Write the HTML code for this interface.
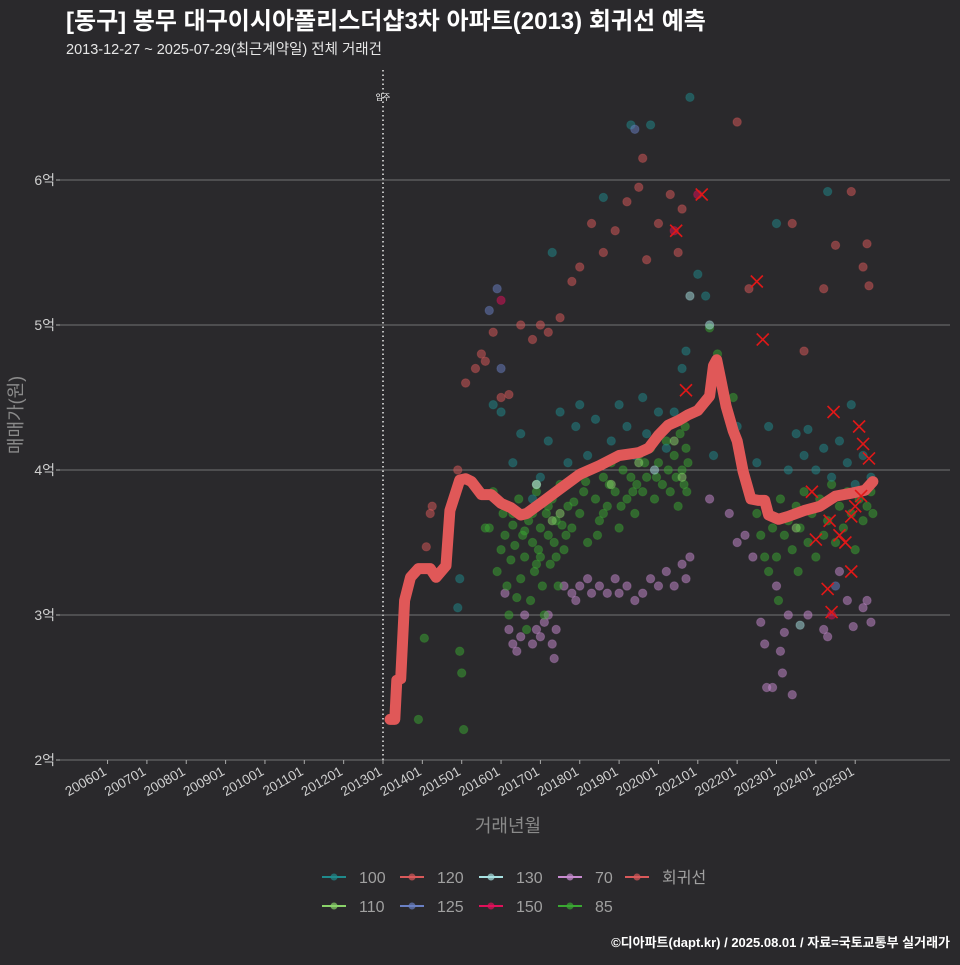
<!DOCTYPE html>
<html><head><meta charset="utf-8">
<style>
html,body{margin:0;padding:0;background:#2a292c;}
body{width:960px;height:960px;overflow:hidden;font-family:"Liberation Sans","Noto Sans CJK KR",sans-serif;}
svg text{font-family:"Liberation Sans","Noto Sans CJK KR",sans-serif;}
</style></head>
<body>
<svg id="chart" width="960" height="960" xmlns="http://www.w3.org/2000/svg">
<rect width="960" height="960" fill="#2a292c"/>
<text x="66" y="29" fill="#ffffff" font-size="24" font-weight="bold">[동구] 봉무 대구이시아폴리스더샵3차 아파트(2013) 회귀선 예측</text>
<text x="66" y="54" fill="#e6e6e6" font-size="14.5">2013-12-27 ~ 2025-07-29(최근계약일) 전체 거래건</text>
<g id="grid"></g><g id="axes"></g><g id="points"></g><g id="line"></g><g id="marks"></g>
<text transform="translate(22,415) rotate(-90)" text-anchor="middle" fill="#8a8a8a" font-size="18">매매가(원)</text>
<text x="508" y="832" text-anchor="middle" fill="#8a8a8a" font-size="18">거래년월</text>
<g id="legend"></g>
<text x="950" y="947" text-anchor="end" fill="#ffffff" font-size="13" font-weight="bold">©디아파트(dapt.kr) / 2025.08.01 / 자료=국토교통부 실거래가</text>
</svg>
<script>
const xTickLabels=["200601","200701","200801","200901","201001","201101","201201","201301","201401","201501","201601","201701","201801","201901","202001","202101","202201","202301","202401","202501"];
const xTickYears=[2006,2007,2008,2009,2010,2011,2012,2013,2014,2015,2016,2017,2018,2019,2020,2021,2022,2023,2024,2025];
const yTickValues=[2,3,4,5,6];
const yTickLabels=["2억","3억","4억","5억","6억"];
const moveInYear=2013.0;
const lineT=[2013.18,2013.3,2013.35,2013.45,2013.55,2013.7,2013.9,2014.2,2014.35,2014.6,2014.7,2014.95,2015.1,2015.25,2015.5,2015.75,2016.0,2016.25,2016.5,2016.65,2017.0,2017.5,2018.0,2018.5,2019.0,2019.5,2019.75,2020.0,2020.25,2020.5,2020.75,2021.0,2021.15,2021.3,2021.4,2021.48,2021.58,2021.72,2021.9,2022.0,2022.15,2022.35,2022.55,2022.7,2022.8,2023.05,2023.3,2023.7,2024.1,2024.5,2024.9,2025.25,2025.45];
const lineP=[2.28,2.28,2.55,2.56,3.1,3.26,3.32,3.32,3.26,3.34,3.72,3.93,3.94,3.92,3.83,3.83,3.77,3.74,3.69,3.70,3.77,3.87,3.97,4.03,4.10,4.12,4.15,4.24,4.31,4.34,4.38,4.41,4.46,4.51,4.72,4.76,4.63,4.44,4.27,4.2,3.99,3.8,3.79,3.79,3.69,3.66,3.68,3.72,3.75,3.82,3.84,3.86,3.92];
const s85=[[2013.9,2.28],[2014.05,2.84],[2014.95,2.75],[2015.0,2.6],[2015.05,2.21],[2015.6,3.6],[2015.7,3.6],[2015.8,3.85],[2015.9,3.3],[2016.0,3.45],[2016.05,3.7],[2016.1,3.55],[2016.15,3.2],[2016.2,3.0],[2016.25,3.38],[2016.3,3.62],[2016.35,3.48],[2016.4,3.12],[2016.45,3.8],[2016.5,3.25],[2016.55,3.55],[2016.6,3.4],[2016.65,2.9],[2016.7,3.65],[2016.75,3.1],[2016.8,3.5],[2016.85,3.3],[2016.9,3.85],[2016.95,3.45],[2017.0,3.6],[2017.05,3.2],[2017.1,3.0],[2017.15,3.7],[2017.2,3.55],[2017.25,3.35],[2017.3,3.8],[2017.35,3.5],[2017.4,3.65],[2017.45,3.2],[2017.5,3.9],[2017.55,3.62],[2017.6,3.45],[2017.7,3.75],[2017.8,3.6],[2017.9,3.95],[2018.0,3.7],[2018.1,3.85],[2018.2,3.5],[2018.3,4.0],[2018.4,3.8],[2018.5,3.65],[2018.6,3.95],[2018.7,3.75],[2018.8,4.05],[2018.9,3.85],[2019.0,3.6],[2019.1,4.0],[2019.2,3.8],[2019.3,3.95],[2019.4,3.7],[2019.5,4.1],[2019.6,3.85],[2019.7,3.95],[2019.8,4.15],[2019.9,3.8],[2020.0,4.05],[2020.1,3.9],[2020.2,4.2],[2020.3,3.85],[2020.4,4.1],[2020.5,3.75],[2020.55,4.25],[2020.6,4.0],[2020.65,3.9],[2020.7,4.15],[2020.75,4.05],[2021.3,4.98],[2021.5,4.8],[2021.9,4.5],[2016.3,3.7],[2016.6,3.58],[2016.9,3.35],[2017.2,3.75],[2017.4,3.4],[2017.65,3.55],[2017.85,3.78],[2018.15,3.92],[2018.45,3.55],[2018.75,3.9],[2019.05,3.75],[2019.35,3.85],[2019.65,4.05],[2019.95,3.95],[2020.25,4.0],[2020.45,3.95],[2020.68,4.3],[2020.72,3.85],[2016.8,3.7],[2017.0,3.4],[2018.6,3.7],[2019.45,3.9],[2022.5,3.7],[2022.6,3.55],[2022.7,3.4],[2022.8,3.3],[2022.9,3.6],[2023.0,3.4],[2023.05,3.1],[2023.1,3.8],[2023.2,3.55],[2023.3,3.65],[2023.4,3.45],[2023.5,3.75],[2023.55,3.3],[2023.6,3.6],[2023.7,3.85],[2023.8,3.5],[2023.9,3.7],[2024.0,3.4],[2024.1,3.8],[2024.2,3.55],[2024.3,3.65],[2024.4,3.9],[2024.5,3.5],[2024.6,3.75],[2024.7,3.6],[2024.8,3.85],[2024.9,3.7],[2025.0,3.45],[2025.1,3.8],[2025.2,3.65],[2025.3,3.75],[2025.4,3.85],[2025.45,3.7]];
const s100=[[2014.9,3.05],[2014.95,3.25],[2015.8,4.45],[2016.0,4.4],[2016.3,4.05],[2016.5,4.25],[2016.8,3.8],[2017.0,3.95],[2017.2,4.2],[2017.3,5.5],[2017.5,4.4],[2017.7,4.05],[2017.9,4.3],[2018.0,4.45],[2018.2,4.1],[2018.4,4.35],[2018.6,5.88],[2018.8,4.2],[2019.0,4.45],[2019.2,4.3],[2019.3,6.38],[2019.4,4.1],[2019.6,4.5],[2019.7,4.25],[2019.8,6.38],[2020.0,4.4],[2020.2,4.15],[2020.4,4.4],[2020.6,4.7],[2020.7,4.82],[2020.8,6.57],[2021.0,5.35],[2021.2,5.2],[2021.4,4.1],[2022.0,4.3],[2022.5,4.05],[2022.8,4.3],[2023.0,5.7],[2023.3,4.0],[2023.5,4.25],[2023.7,4.1],[2023.8,4.28],[2024.0,4.0],[2024.2,4.15],[2024.3,5.92],[2024.4,3.95],[2024.6,4.2],[2024.8,4.05],[2024.9,4.45],[2025.0,3.9],[2025.2,4.1],[2025.4,3.95]];
const s70=[[2016.1,3.15],[2016.2,2.9],[2016.3,2.8],[2016.4,2.75],[2016.5,2.85],[2016.6,3.0],[2016.8,2.8],[2016.9,2.9],[2017.0,2.85],[2017.1,2.95],[2017.2,3.0],[2017.3,2.8],[2017.35,2.7],[2017.4,2.9],[2017.6,3.2],[2017.8,3.15],[2017.9,3.1],[2018.0,3.2],[2018.2,3.25],[2018.3,3.15],[2018.5,3.2],[2018.7,3.15],[2018.9,3.25],[2019.0,3.15],[2019.2,3.2],[2019.4,3.1],[2019.6,3.15],[2019.8,3.25],[2020.0,3.2],[2020.2,3.3],[2020.4,3.2],[2020.6,3.35],[2020.7,3.25],[2020.8,3.4],[2021.3,3.8],[2021.8,3.7],[2022.0,3.5],[2022.2,3.55],[2022.4,3.4],[2022.6,2.95],[2022.7,2.8],[2022.75,2.5],[2022.9,2.5],[2023.0,3.2],[2023.1,2.75],[2023.15,2.6],[2023.2,2.88],[2023.3,3.0],[2023.4,2.45],[2023.8,3.0],[2024.2,2.9],[2024.3,2.85],[2024.6,3.3],[2024.8,3.1],[2024.95,2.92],[2025.2,3.05],[2025.3,3.1],[2025.4,2.95]];
const s120=[[2014.1,3.47],[2014.2,3.7],[2014.25,3.75],[2014.9,4.0],[2015.1,4.6],[2015.35,4.7],[2015.5,4.8],[2015.6,4.75],[2015.8,4.95],[2016.0,4.5],[2016.2,4.52],[2016.5,5.0],[2016.8,4.9],[2017.0,5.0],[2017.2,4.95],[2017.5,5.05],[2017.8,5.3],[2018.0,5.4],[2018.3,5.7],[2018.6,5.5],[2018.9,5.65],[2019.2,5.85],[2019.5,5.95],[2019.6,6.15],[2019.7,5.45],[2020.0,5.7],[2020.3,5.9],[2020.5,5.5],[2020.6,5.8],[2022.0,6.4],[2022.3,5.25],[2023.4,5.7],[2023.7,4.82],[2024.2,5.25],[2024.5,5.55],[2024.9,5.92],[2025.2,5.4],[2025.3,5.56],[2025.35,5.27]];
const s110=[[2016.9,3.9],[2017.3,3.65],[2017.5,3.7],[2018.8,3.9],[2019.5,4.05],[2020.4,4.2],[2020.6,3.95],[2023.5,3.6]];
const s125=[[2015.9,5.25],[2015.7,5.1],[2019.4,6.35],[2016.0,4.7],[2024.5,3.2]];
const s130=[[2016.9,3.9],[2019.9,4.0],[2020.8,5.2],[2023.6,2.93],[2021.3,5.0]];
const s150=[[2016.0,5.17],[2020.4,5.65],[2021.0,5.9],[2024.4,3.0]];
const xMarks=[[2020.45,5.65],[2020.7,4.55],[2021.1,5.9],[2022.5,5.3],[2022.65,4.9],[2023.9,3.85],[2024.3,3.18],[2024.4,3.02],[2024.45,4.4],[2024.6,3.55],[2024.75,3.5],[2024.9,3.3],[2024.9,3.68],[2025.0,3.75],[2025.1,4.3],[2025.2,4.18],[2025.35,4.08],[2025.15,3.82],[2024.0,3.52],[2024.35,3.65]];
const legendLabels=["100","120","130","70","회귀선","110","125","150","85"];

const NS="http://www.w3.org/2000/svg";
const X0=60,X1=950,Y0=65,Y1=760;
function xs(t){return 383+(t-2013)*39.35;}
function ys(p){return 760-(p-2)*145;}
function mk(tag,attrs,parent){const e=document.createElementNS(NS,tag);for(const k in attrs)e.setAttribute(k,attrs[k]);parent.appendChild(e);return e;}
const grid=document.getElementById('grid'),axes=document.getElementById('axes');
yTickValues.forEach((v,i)=>{
  const g=mk('line',{x1:X0,x2:X1,y1:ys(v),y2:ys(v),stroke:'#737373','stroke-width':1},grid);
  
  
  const tk=mk('line',{x1:X0-4,x2:X0,y1:ys(v),y2:ys(v),stroke:'#aaa'},axes);
  
  
  const t=mk('text',{x:X0-5,y:ys(v)+5,'text-anchor':'end',fill:'#cfcfcf','font-size':14},axes);
  t.textContent=yTickLabels[i];
  
  
});
xTickYears.forEach((yr,i)=>{
  const x=xs(yr);
  const tk=mk('line',{x1:x,x2:x,y1:Y1,y2:Y1+4,stroke:'#aaa'},axes);
  
  
  const t=mk('text',{x:x,y:Y1+14,'text-anchor':'end',fill:'#cfcfcf','font-size':13.5,transform:`rotate(-30 ${x} ${Y1+14})`},axes);
  t.textContent=xTickLabels[i];
  
  
});
const vl=mk('line',{x1:xs(moveInYear),x2:xs(moveInYear),y1:70,y2:Y1,stroke:'#bbbbbb','stroke-width':2,'stroke-dasharray':'1.5 3'},axes);


const ml=mk('text',{x:xs(moveInYear),y:100,'text-anchor':'middle',fill:'#ffffff','font-size':8},axes);
ml.textContent='입주';



const pts=document.getElementById('points');
const series=[[s70,'#c88bd0'],[s85,'#3aa832'],[s100,'#1f8a8c'],[s110,'#8ad36a'],[s120,'#d9595a'],[s125,'#6a80c4'],[s130,'#a8e2e2'],[s150,'#e0105a']];
series.forEach(([arr,col])=>{
  arr.forEach(d=>{
    const c=mk('circle',{cx:xs(d[0]),cy:ys(d[1]),r:4.2,fill:col,'fill-opacity':0.5,stroke:col,'stroke-opacity':0.3},pts);
    
    
  });
});
const lg=document.getElementById('line');
const path=mk('path',{d:lineT.map((t,i)=>(i?'L':'M')+xs(t).toFixed(1)+','+ys(lineP[i]).toFixed(1)).join(''),fill:'none',stroke:'#e05858','stroke-width':11,'stroke-linejoin':'round','stroke-linecap':'round'},lg);


const mg=document.getElementById('marks');
xMarks.forEach(d=>{
  const x=xs(d[0]),y=ys(d[1]);
  const p=mk('path',{d:`M${x-6},${y-6}L${x+6},${y+6}M${x-6},${y+6}L${x+6},${y-6}`,stroke:'#e01818','stroke-width':1.6},mg);
  
  
});
const legCols=['#1f8a8c','#d9595a','#a8e2e2','#c88bd0','#d9595a','#8ad36a','#6a80c4','#e0105a','#3aa832'];
const legPos=[[322,877],[400,877],[479,877],[558,877],[625,877],[322,906],[400,906],[479,906],[558,906]];
const legend=document.getElementById('legend');
legendLabels.forEach((lab,i)=>{
  const [x,y]=legPos[i];
  const g=mk('g',{},legend);
  
  
  mk('line',{x1:x,x2:x+24,y1:y,y2:y,stroke:legCols[i],'stroke-width':2},g);
  mk('circle',{cx:x+12,cy:y,r:3.5,fill:legCols[i],'fill-opacity':0.7},g);
  const t=mk('text',{x:x+37,y:y+6,fill:'#a0a0a0','font-size':16},g);
  t.textContent=lab;
});
</script>
</body></html>
